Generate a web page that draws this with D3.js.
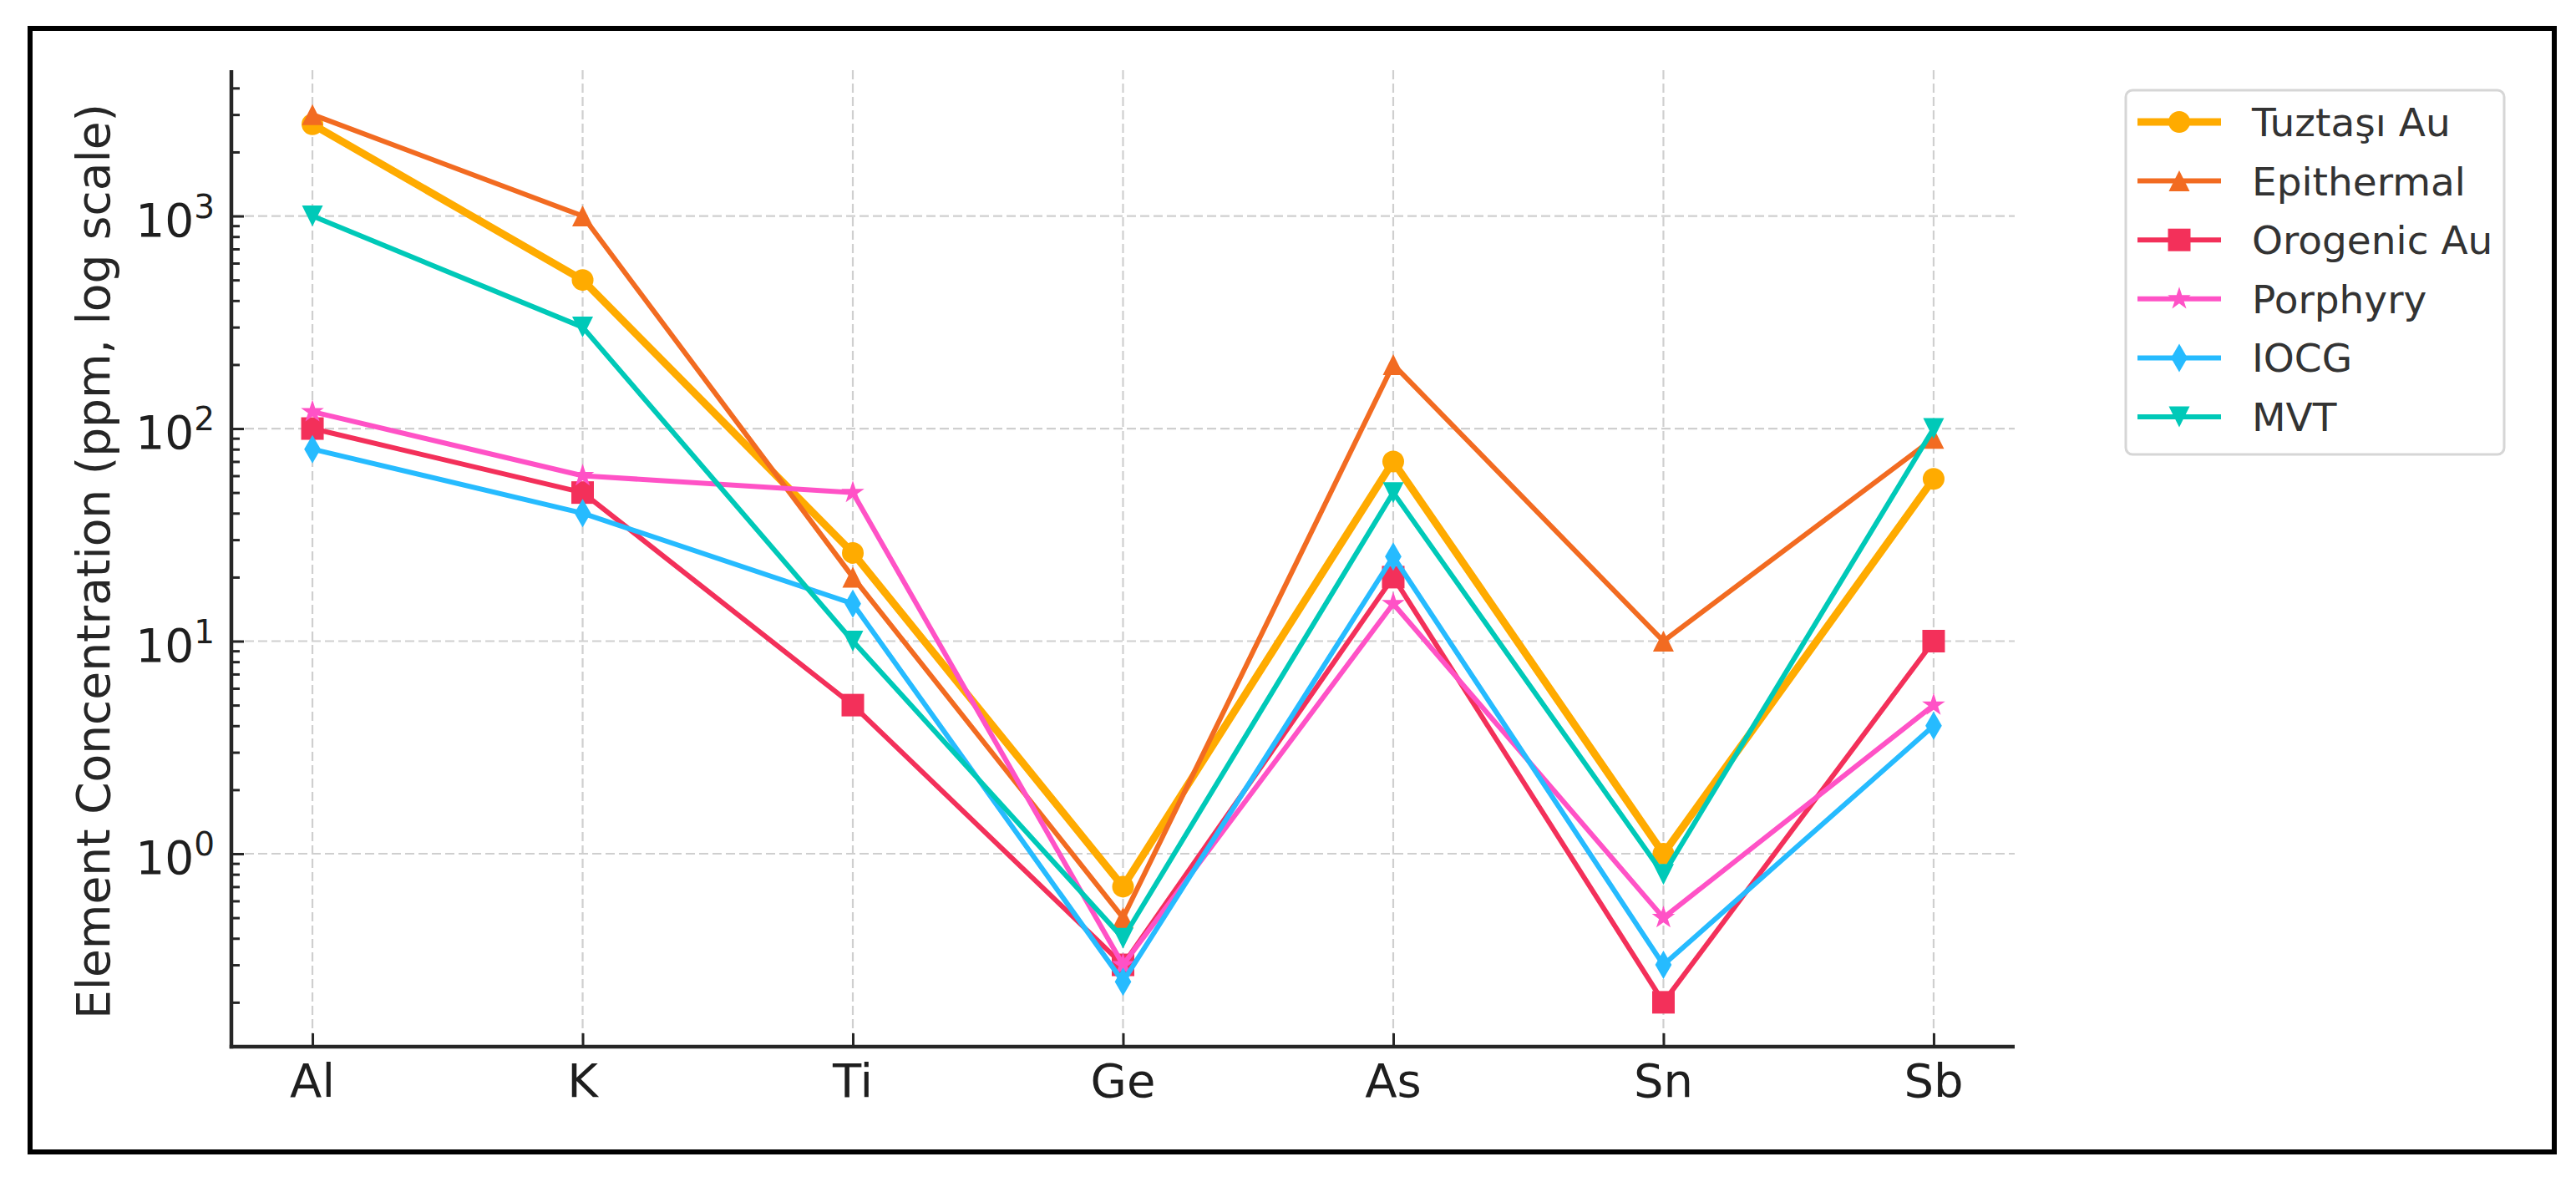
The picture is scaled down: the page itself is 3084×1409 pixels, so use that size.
<!DOCTYPE html>
<html>
<head>
<meta charset="utf-8">
<script src="https://cdn.jsdelivr.net/npm/d3@7"></script>
<style>
  body { margin: 0; background: #fff; }
  svg { display: block; font-family: "DejaVu Sans", sans-serif; }
</style>
</head>
<body>
<svg id="chart" width="3084" height="1409"></svg>
<script>
// --- data ---
const elements = ["Al", "K", "Ti", "Ge", "As", "Sn", "Sb"];
const seriesNames = ["Tuztaşı Au", "Epithermal", "Orogenic Au", "Porphyry", "IOCG", "MVT"];
const tuztasiAu  = [2700, 500, 26, 0.7, 70, 1.0, 58];
const epithermal = [3000, 1000, 20, 0.5, 200, 10, 90];
const orogenicAu = [100, 50, 5, 0.3, 20, 0.2, 10];
const porphyry   = [120, 60, 50, 0.3, 15, 0.5, 5];
const iocg       = [80, 40, 15, 0.25, 25, 0.3, 4];
const mvt        = [1000, 300, 10, 0.4, 50, 0.8, 100];
const yTickExponents = [0, 1, 2, 3];

const seriesValues = [tuztasiAu, epithermal, orogenicAu, porphyry, iocg, mvt];
const colors = ["#ffab00", "#f26b21", "#f3305a", "#ff52c6", "#26bbff", "#00c9b8"];
const widths = [9, 6, 6, 6, 6, 6];

// --- marker shapes (matplotlib-like) ---
const triUp = { draw(ctx, r) { ctx.moveTo(0, -r); ctx.lineTo(r, r); ctx.lineTo(-r, r); ctx.closePath(); } };
const triDown = { draw(ctx, r) { ctx.moveTo(0, r); ctx.lineTo(r, -r); ctx.lineTo(-r, -r); ctx.closePath(); } };
const circ = { draw(ctx, r) { ctx.moveTo(r, 0); ctx.arc(0, 0, r, 0, 2 * Math.PI); } };
const sq = { draw(ctx, r) { ctx.rect(-r, -r, 2 * r, 2 * r); } };
const thinDiamond = { draw(ctx, r) { ctx.moveTo(0, -r); ctx.lineTo(r * 0.58, 0); ctx.lineTo(0, r); ctx.lineTo(-r * 0.58, 0); ctx.closePath(); } };
const star = { draw(ctx, r) {
  const ri = r * 0.382;
  for (let i = 0; i < 10; i++) {
    const a = -Math.PI / 2 + i * Math.PI / 5;
    const rr = i % 2 ? ri : r;
    if (i === 0) ctx.moveTo(rr * Math.cos(a), rr * Math.sin(a));
    else ctx.lineTo(rr * Math.cos(a), rr * Math.sin(a));
  }
  ctx.closePath();
} };
const markers = [circ, triUp, sq, star, thinDiamond, triDown];
const markerR = [13, 12.5, 13.5, 14.5, 17, 12.5];

function markerPath(i) {
  const p = d3.path();
  markers[i].draw(p, markerR[i]);
  return p.toString();
}

// --- layout ---
const svg = d3.select("#chart");
const plot = { left: 277, right: 2412, top: 84, bottom: 1253 };

// frame round the whole figure
svg.append("rect")
  .attr("x", 36).attr("y", 34).attr("width", 3022).attr("height", 1345)
  .attr("fill", "none").attr("stroke", "#000").attr("stroke-width", 6);

const x = d3.scalePoint().domain(elements).range([plot.left, plot.right]).padding(0.3);

const allVals = seriesValues.flat();
const lo = Math.log10(d3.min(allVals)), hi = Math.log10(d3.max(allVals));
const pad = (hi - lo) * 0.05;
const y = d3.scaleLog().domain([10 ** (lo - pad), 10 ** (hi + pad)]).range([plot.bottom, plot.top]);

// --- grid ---
const grid = svg.append("g").attr("stroke", "#cfcfcf").attr("stroke-width", 2.2).attr("stroke-dasharray", "11,5");
grid.selectAll(".gy").data(yTickExponents).enter().append("line")
  .attr("x1", plot.left).attr("x2", plot.right)
  .attr("y1", d => y(10 ** d)).attr("y2", d => y(10 ** d));
grid.selectAll(".gx").data(elements).enter().append("line")
  .attr("x1", d => x(d)).attr("x2", d => x(d))
  .attr("y1", plot.top).attr("y2", plot.bottom);

// --- axes ---
const [d0, d1] = y.domain();
const minorTicks = [];
for (let e = Math.floor(Math.log10(d0)); e <= Math.ceil(Math.log10(d1)); e++) {
  for (let m = 2; m <= 9; m++) {
    const v = m * 10 ** e;
    if (v >= d0 && v <= d1) minorTicks.push(v);
  }
}

const yMinor = svg.append("g").attr("transform", `translate(${plot.left},0)`)
  .call(d3.axisLeft(y).tickValues(minorTicks).tickSize(-10).tickFormat(""));
const yMajor = svg.append("g").attr("transform", `translate(${plot.left},0)`)
  .call(d3.axisLeft(y).tickValues(yTickExponents.map(e => 10 ** e)).tickSize(-15).tickFormat(""));
const xAxis = svg.append("g").attr("transform", `translate(0,${plot.bottom})`)
  .call(d3.axisBottom(x).tickSize(-16).tickFormat(""));

[yMinor, yMajor, xAxis].forEach(g => {
  g.select(".domain").remove();
  g.selectAll(".tick line").attr("stroke", "#262626").attr("stroke-width", 3);
});

// spines
svg.append("line").attr("x1", plot.left).attr("x2", plot.left)
  .attr("y1", plot.top).attr("y2", plot.bottom + 2.2)
  .attr("stroke", "#262626").attr("stroke-width", 4.5);
svg.append("line").attr("x1", plot.left - 2.2).attr("x2", plot.right)
  .attr("y1", plot.bottom).attr("y2", plot.bottom)
  .attr("stroke", "#262626").attr("stroke-width", 4.5);

// y tick labels 10^n
const yLab = svg.append("g").attr("fill", "#1e1e1e");
yTickExponents.forEach(e => {
  const t = yLab.append("text")
    .attr("x", 257).attr("y", y(10 ** e) + 24)
    .attr("text-anchor", "end").attr("font-size", 55);
  t.append("tspan").text("10");
  t.append("tspan").attr("font-size", 39).attr("dy", -22).text(e);
});

// x tick labels
svg.append("g").selectAll("text").data(elements).enter().append("text")
  .attr("x", d => x(d)).attr("y", 1313)
  .attr("text-anchor", "middle").attr("font-size", 56).attr("fill", "#1e1e1e")
  .text(d => d);

// y label
svg.append("text")
  .attr("transform", "translate(131,672) rotate(-90)")
  .attr("text-anchor", "middle").attr("font-size", 55).attr("fill", "#262626")
  .text("Element Concentration (ppm, log scale)");

// --- series ---
const line = d3.line().x((d, i) => x(elements[i])).y(d => y(d));
seriesValues.forEach((vals, i) => {
  const g = svg.append("g");
  g.append("path").datum(vals)
    .attr("d", line).attr("fill", "none")
    .attr("stroke", colors[i]).attr("stroke-width", widths[i])
    .attr("stroke-linejoin", "round").attr("stroke-linecap", "butt");
  g.selectAll("path.m").data(vals).enter().append("path")
    .attr("class", "m")
    .attr("transform", (d, j) => `translate(${x(elements[j])},${y(d)})`)
    .attr("d", markerPath(i))
    .attr("fill", colors[i]);
});

// --- legend ---
const legend = svg.append("g");
legend.append("rect")
  .attr("x", 2545).attr("y", 108).attr("width", 453).attr("height", 436)
  .attr("rx", 8).attr("fill", "#fff").attr("fill-opacity", 0.8)
  .attr("stroke", "#d6d6d6").attr("stroke-width", 3);
seriesNames.forEach((name, i) => {
  const cy = 146 + i * 70.6;
  legend.append("line").attr("x1", 2559).attr("x2", 2659).attr("y1", cy).attr("y2", cy)
    .attr("stroke", colors[i]).attr("stroke-width", widths[i]);
  legend.append("path").attr("transform", `translate(2609,${cy})`)
    .attr("d", markerPath(i)).attr("fill", colors[i]);
  legend.append("text").attr("x", 2696).attr("y", cy + 17)
    .attr("font-size", 47).attr("fill", "#333").text(name);
});
</script>
</body>
</html>
